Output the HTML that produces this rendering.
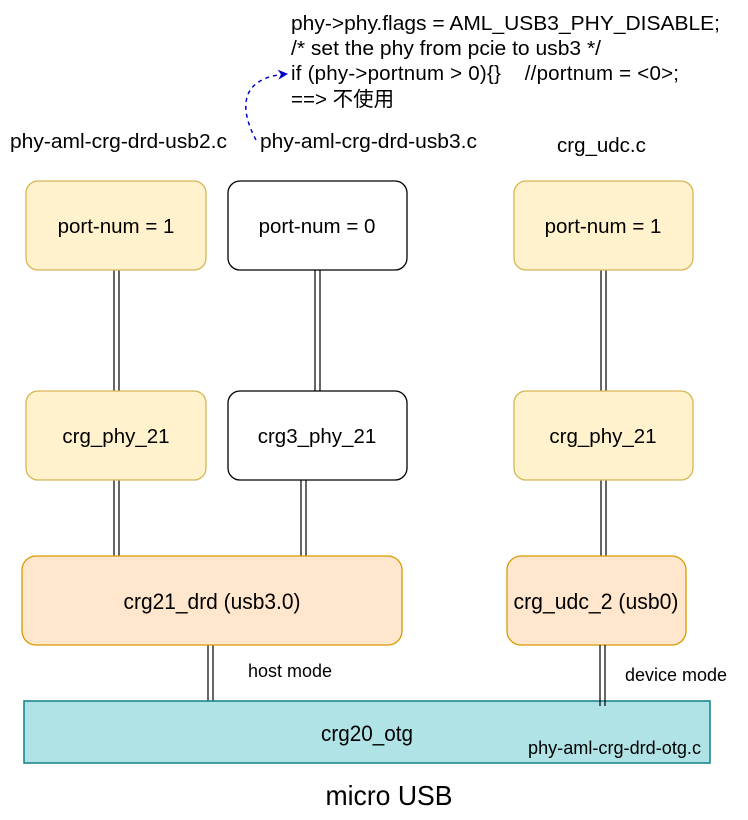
<!DOCTYPE html>
<html><head><meta charset="utf-8"><style>
html,body{margin:0;padding:0;background:#fff;}
svg text{font-family:"Liberation Sans","Noto Sans CJK SC",sans-serif;fill:#000;}
</style></head><body>
<svg width="748" height="815" viewBox="0 0 748 815" xmlns="http://www.w3.org/2000/svg">
<defs><marker id="ar" markerWidth="10" markerHeight="10" refX="8" refY="5" orient="auto" markerUnits="userSpaceOnUse"><path d="M0,0 L10,5 L0,10 L3,5 Z" fill="#0000cc"/></marker></defs>
<g stroke="#000" stroke-width="1.2">
<line x1="114" y1="270" x2="114" y2="391"/><line x1="119" y1="270" x2="119" y2="391"/>
<line x1="315" y1="270" x2="315" y2="391"/><line x1="320" y1="270" x2="320" y2="391"/>
<line x1="601" y1="270" x2="601" y2="391"/><line x1="606" y1="270" x2="606" y2="391"/>
<line x1="114" y1="480" x2="114" y2="556"/><line x1="119" y1="480" x2="119" y2="556"/>
<line x1="301" y1="480" x2="301" y2="556"/><line x1="306" y1="480" x2="306" y2="556"/>
<line x1="601" y1="480" x2="601" y2="556"/><line x1="606" y1="480" x2="606" y2="556"/>
<line x1="208" y1="645" x2="208" y2="701"/><line x1="213" y1="645" x2="213" y2="701"/>
</g>
<rect x="26" y="181" width="180" height="89" rx="12" fill="#fff2cc" stroke="#d6b656" stroke-width="1.3"/>
<rect x="228" y="181" width="179" height="89" rx="12" fill="#fff" stroke="#000" stroke-width="1.3"/>
<rect x="514" y="181" width="179" height="89" rx="12" fill="#fff2cc" stroke="#d6b656" stroke-width="1.3"/>
<rect x="26" y="391" width="180" height="89" rx="12" fill="#fff2cc" stroke="#d6b656" stroke-width="1.3"/>
<rect x="228" y="391" width="179" height="89" rx="12" fill="#fff" stroke="#000" stroke-width="1.3"/>
<rect x="514" y="391" width="179" height="89" rx="12" fill="#fff2cc" stroke="#d6b656" stroke-width="1.3"/>
<rect x="22" y="556" width="380" height="89" rx="14" fill="#ffe6cc" stroke="#d79b00" stroke-width="1.3"/>
<rect x="507" y="556" width="179" height="89" rx="14" fill="#ffe6cc" stroke="#d79b00" stroke-width="1.3"/>
<rect x="24" y="701" width="686" height="62" fill="#b0e3e6" stroke="#0e8088" stroke-width="1.5"/>
<g stroke="#000" stroke-width="1.2">
<line x1="600" y1="645" x2="600" y2="706"/><line x1="605" y1="645" x2="605" y2="706"/>
</g>
<g font-size="20.5" text-anchor="middle">
<text x="116" y="233">port-num = 1</text>
<text x="317" y="233">port-num = 0</text>
<text x="603" y="233">port-num = 1</text>
<text x="116" y="443">crg_phy_21</text>
<text x="317" y="443">crg3_phy_21</text>
<text x="603" y="443">crg_phy_21</text>
<text x="212" y="609" font-size="22" textLength="177" lengthAdjust="spacingAndGlyphs">crg21_drd (usb3.0)</text>
<text x="596" y="609" font-size="22" textLength="165" lengthAdjust="spacingAndGlyphs">crg_udc_2 (usb0)</text>
<text x="367" y="741" font-size="22" textLength="92" lengthAdjust="spacingAndGlyphs">crg20_otg</text>
<text x="389" y="805" font-size="28" textLength="127" lengthAdjust="spacingAndGlyphs">micro USB</text>
</g>
<g font-size="18">
<text x="248" y="677" textLength="84" lengthAdjust="spacingAndGlyphs">host mode</text>
<text x="625" y="681" textLength="102" lengthAdjust="spacingAndGlyphs">device mode</text>
<text x="528" y="754" textLength="173" lengthAdjust="spacingAndGlyphs">phy-aml-crg-drd-otg.c</text>
</g>
<g font-size="20.5">
<text x="10" y="148" textLength="217" lengthAdjust="spacingAndGlyphs">phy-aml-crg-drd-usb2.c</text>
<text x="260" y="148" textLength="217" lengthAdjust="spacingAndGlyphs">phy-aml-crg-drd-usb3.c</text>
<text x="557" y="152">crg_udc.c</text>
<text x="291" y="30" textLength="429" lengthAdjust="spacingAndGlyphs">phy-&gt;phy.flags = AML_USB3_PHY_DISABLE;</text>
<text x="291" y="55" textLength="310" lengthAdjust="spacingAndGlyphs">/* set the phy from pcie to usb3 */</text>
<text x="291" y="80" textLength="388" lengthAdjust="spacing">if (phy-&gt;portnum &gt; 0){}&#160;&#160;&#160;&#160;//portnum = &lt;0&gt;;</text>
<text x="291" y="106">==&gt; 不使用</text>
</g>
<path d="M256,140 C240,110 238,78 286,74" fill="none" stroke="#0000cc" stroke-width="1.5" stroke-dasharray="4,4" marker-end="url(#ar)"/>
</svg>
</body></html>
